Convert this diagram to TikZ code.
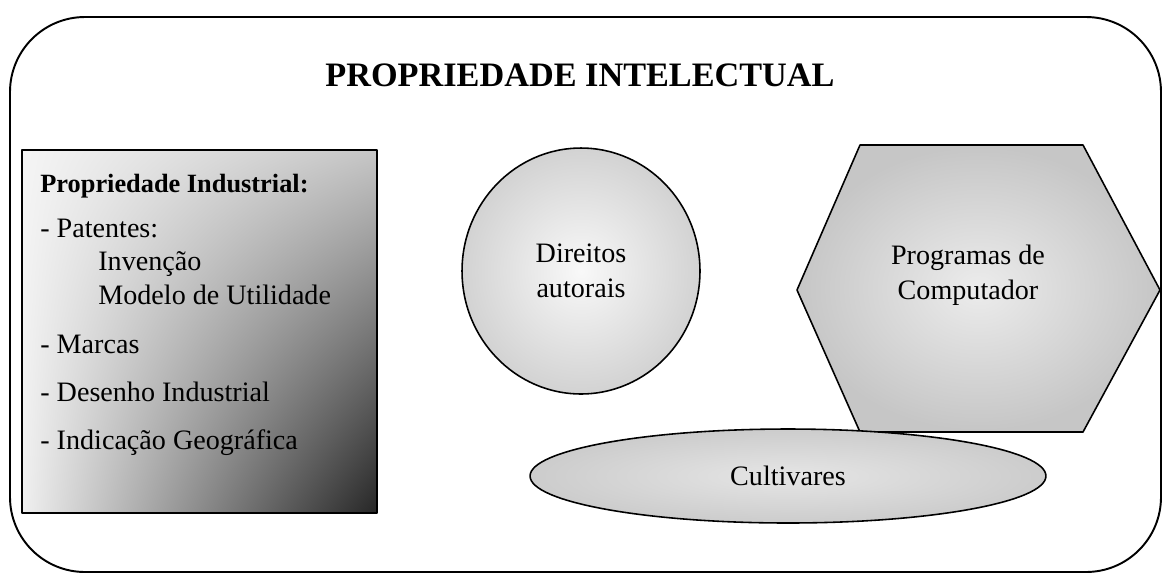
\documentclass[tikz,border=0pt]{standalone}
\usepackage{fontspec}
\setmainfont{Liberation Serif}
\usetikzlibrary{shapes.geometric}
\usetikzlibrary{shadings}
\usetikzlibrary{positioning}

\begin{document}
\begin{tikzpicture}[x=0.02cm, y=-0.02cm, line join=round,
  item/.style={anchor=base west, inner sep=0pt, font=\fontsize{16}{20}\selectfont},
  blob/.style={draw, line width=0.9pt, align=center, inner sep=0pt,
               font=\fontsize{16}{20}\selectfont}]
  \useasboundingbox (0,0) rectangle (1163,576);

  % Frame and title
  \draw[line width=1.1pt, rounded corners=1.5cm] (10,17) rectangle (1161,572);
  \node[font=\fontsize{19.5}{22}\selectfont\bfseries] (title) at (580,75) {PROPRIEDADE INTELECTUAL};

  % Left: industrial property box
  \shade[upper left=gray!8, upper right=gray!45, lower left=gray!12, lower right=black!85]
    (22,150) rectangle (377,513);
  \draw[line width=0.9pt] (22,150) rectangle (377,513);
  \node[item, font=\fontsize{15}{18}\selectfont\bfseries] (pi) at (40,192) {Propriedade Industrial:};
  \node[item] (pat) at (40,237) {- Patentes:};
  \node[item] (inv) at (98,270) {Invenção};
  \node[item] (mod) at (98,304) {Modelo de Utilidade};
  \node[item] (mar) at (40,353) {- Marcas};
  \node[item] (des) at (40,401) {- Desenho Industrial};
  \node[item] (ind) at (40,449) {- Indicação Geográfica};

  % Middle: copyright
  \node[blob, ellipse, inner color=gray!5, outer color=gray!35,
        minimum width=4.76cm, minimum height=4.92cm] (dir) at (581,271) {Direitos\\autorais};

  % Right: software
  \coordinate (h1) at (797,290);
  \coordinate (h2) at (860,145);
  \coordinate (h3) at (1083,145);
  \coordinate (h4) at (1160,290);
  \coordinate (h5) at (1083,432);
  \coordinate (h6) at (860,432);
  \shade[inner color=gray!15, outer color=gray!45] (h1) -- (h2) -- (h3) -- (h4) -- (h5) -- (h6) -- cycle;
  \draw[line width=0.9pt] (h1) -- (h2) -- (h3) -- (h4) -- (h5) -- (h6) -- cycle;
  \node[align=center, font=\fontsize{16}{20}\selectfont] (prog) at (968,275) {Programas de\\Computador};

  % Bottom: plant varieties
  \node[blob, ellipse, inner color=gray!20, outer color=gray!40,
        minimum width=10.32cm, minimum height=1.88cm] (cult) at (788,476) {Cultivares};
\end{tikzpicture}
\end{document}
